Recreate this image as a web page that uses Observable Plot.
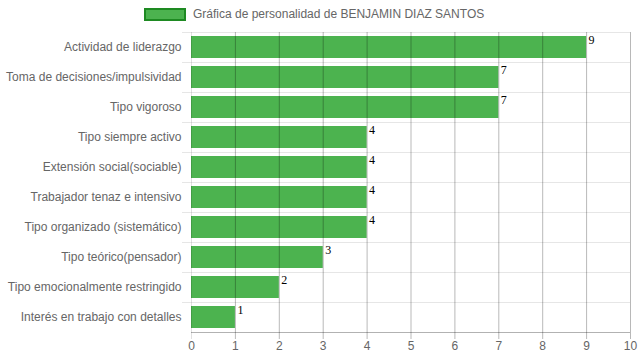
<!DOCTYPE html>
<html>
<head>
<meta charset="utf-8">
<script src="https://cdn.jsdelivr.net/npm/d3@7"></script>
<script src="https://cdn.jsdelivr.net/npm/@observablehq/plot@0.6"></script>
<style>
  html, body { margin: 0; padding: 0; background: #fff; }
  body { width: 639px; height: 360px; overflow: hidden; font-family: "Liberation Sans", Arial, sans-serif; }
  #legend { position: relative; height: 26px; }
  #legend .box { position: absolute; left: 144px; top: 8px; width: 38px; height: 9px; background: #4cb34f; border: 2px solid #1e8a22; }
  #legend .lbl { position: absolute; left: 193px; top: 6px; font-size: 12px; color: #666; line-height: 16px; }
  #chart svg { display: block; }
</style>
</head>
<body>
<div id="legend"><div class="box"></div><div class="lbl">Gráfica de personalidad de BENJAMIN DIAZ SANTOS</div></div>
<div id="chart"></div>
<script>
const categories = [
  "Actividad de liderazgo",
  "Toma de decisiones/impulsividad",
  "Tipo vigoroso",
  "Tipo siempre activo",
  "Extensión social(sociable)",
  "Trabajador tenaz e intensivo",
  "Tipo organizado (sistemático)",
  "Tipo teórico(pensador)",
  "Tipo emocionalmente restringido",
  "Interés en trabajo con detalles"
];
const values = [9, 7, 7, 4, 4, 4, 4, 3, 2, 1];
const xTicks = [0, 1, 2, 3, 4, 5, 6, 7, 8, 9, 10];

const data = categories.map((c, i) => ({category: c, value: values[i]}));

const width = 639, height = 334;
const marginTop = 6, marginBottom = 28, marginLeft = 191, marginRight = 9;
const step = (height - marginTop - marginBottom) / categories.length;

const chart = Plot.plot({
  width, height, marginTop, marginBottom, marginLeft, marginRight,
  style: {fontFamily: '"Liberation Sans", Arial, sans-serif', fontSize: "12px", background: "#fff"},
  x: {domain: [0, 10], ticks: xTicks, label: null},
  y: {domain: categories, paddingInner: 0.28, paddingOuter: 0.14, label: null},
  marks: [
    // horizontal grid lines at band boundaries
    Plot.ruleY(categories, {y: d => d, dy: -step / 2, stroke: "#e6e6e6", insetLeft: -9}),
    Plot.barX(data, {y: "category", x: "value", fill: "#4cb34f"}),
    // vertical grid lines
    Plot.ruleX(xTicks, {x: d => d, stroke: "#000", strokeOpacity: d => d === 0 ? 0.12 : 0.28, insetBottom: -7}),
    // bottom axis line
    Plot.ruleY([categories[categories.length - 1]], {y: d => d, dy: step / 2, stroke: "#000", strokeOpacity: 0.3}),
    Plot.text(data, {
      y: "category", x: "value", text: d => String(d.value),
      textAnchor: "start", dx: 2, dy: -7,
      fontFamily: '"Liberation Serif", "Times New Roman", serif', fontSize: 12, fill: "#000"
    }),
    Plot.axisX({ticks: xTicks, tickSize: 0, tickPadding: 9, fill: "#666", fontSize: 12, label: null}),
    Plot.axisY({tickSize: 0, tickPadding: 10, fill: "#666", fontSize: 12, label: null})
  ]
});
document.getElementById("chart").appendChild(chart);
</script>
</body>
</html>
